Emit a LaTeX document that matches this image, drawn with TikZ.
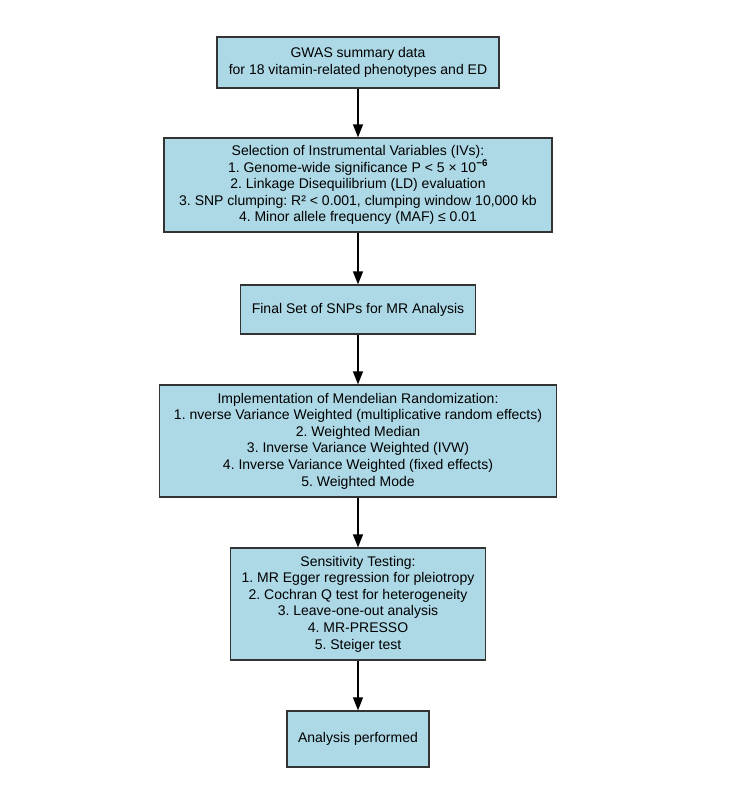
\documentclass[tikz,border=0pt]{standalone}
\usepackage{fontspec}
\setmainfont{Liberation Sans}
\usetikzlibrary{arrows.meta}
\definecolor{boxfill}{HTML}{ADD8E6}
\definecolor{boxline}{HTML}{333333}
\frenchspacing
\begin{document}
\begin{tikzpicture}[x=1pt,y=-1pt,
  box/.style={draw=boxline,fill=boxfill,line width=1.3pt,align=center,inner sep=0pt,
    font=\fontsize{14}{16.6}\selectfont},
  conn/.style={draw=black,line width=1.3pt,-{Triangle[length=13pt,width=10pt]}}]
\useasboundingbox (0,0) rectangle (743,800);
\node[box,minimum width=282pt,minimum height=51pt] (b1) at (358,62.5)
  {GWAS summary data\\for 18 vitamin-related phenotypes and ED};
\node[box,minimum width=388pt,minimum height=94pt] (b2) at (358,185)
  {Selection of Instrumental Variables (IVs):\\
   1. Genome-wide significance P < 5 × 10\textsuperscript{\textbf{−6}}\\
   2. Linkage Disequilibrium (LD) evaluation\\
   3. SNP clumping: R² < 0.001, clumping window 10,000 kb\\
   4. Minor allele frequency (MAF) ≤ 0.01};
\node[box,minimum width=235pt,minimum height=49pt] (b3) at (358,309.5)
  {Final Set of SNPs for MR Analysis};
\node[box,minimum width=397pt,minimum height=112pt] (b4) at (358,441)
  {Implementation of Mendelian Randomization:\\
   1. nverse Variance Weighted (multiplicative random effects)\\
   2. Weighted Median\\
   3. Inverse Variance Weighted (IVW)\\
   4. Inverse Variance Weighted (fixed effects)\\
   5. Weighted Mode};
\node[box,minimum width=255pt,minimum height=112pt] (b5) at (358,604)
  {Sensitivity Testing:\\
   1. MR Egger regression for pleiotropy\\
   2. Cochran Q test for heterogeneity\\
   3. Leave-one-out analysis\\
   4. MR-PRESSO\\
   5. Steiger test};
\node[box,minimum width=142pt,minimum height=56pt] (b6) at (358,739)
  {Analysis performed};
\draw[conn] (b1.south) -- (b2.north);
\draw[conn] (b2.south) -- (b3.north);
\draw[conn] (b3.south) -- (b4.north);
\draw[conn] (b4.south) -- (b5.north);
\draw[conn] (b5.south) -- (b6.north);
\end{tikzpicture}
\end{document}
